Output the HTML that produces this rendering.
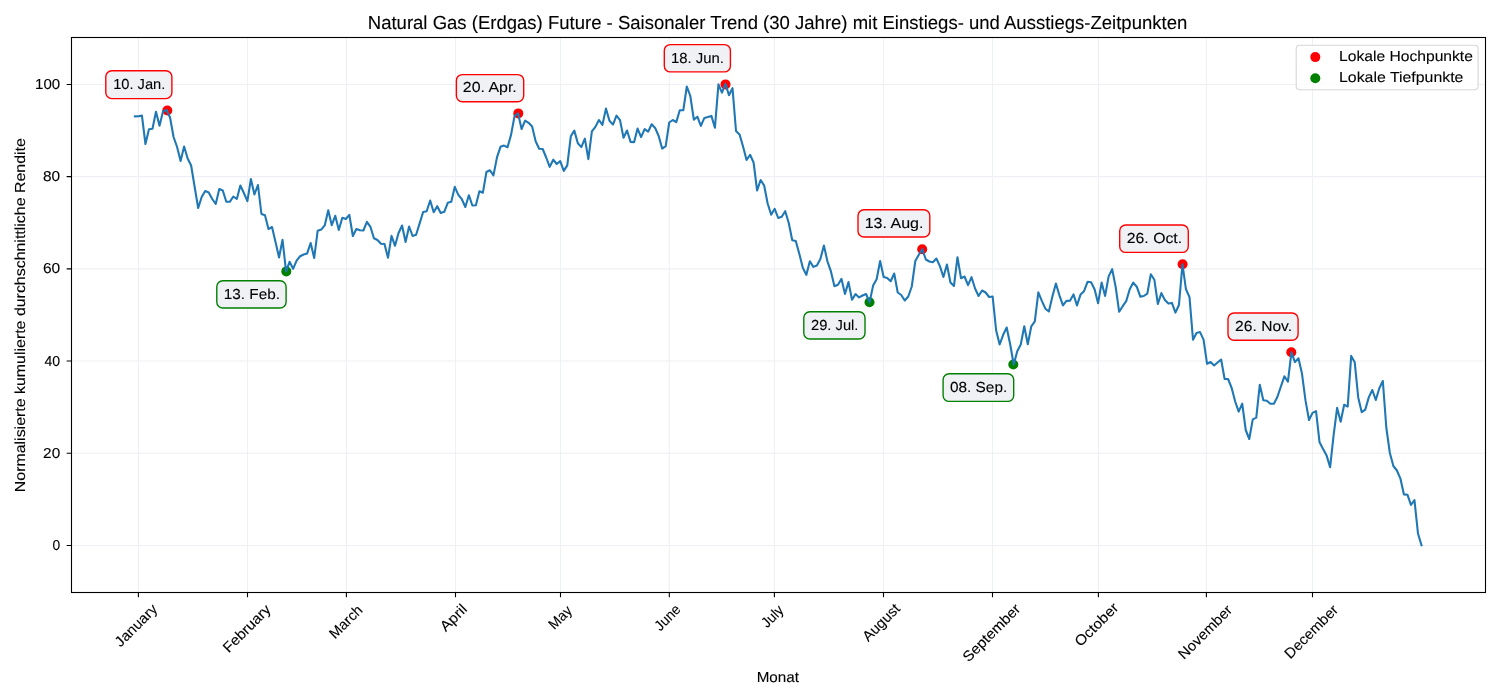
<!DOCTYPE html><html><head><meta charset="utf-8"><style>html,body{margin:0;padding:0;background:#fff;width:1500px;height:700px;overflow:hidden;position:relative}svg text{text-rendering:geometricPrecision}</style></head><body><svg width="1500" height="700" viewBox="0 0 1500 700" style="position:absolute;left:0;top:0;will-change:transform">
<rect x="0" y="0" width="1500" height="700" fill="#ffffff"/>
<path d="M138.40 37.5V592.5 M247.50 37.5V592.5 M346.40 37.5V592.5 M455.50 37.5V592.5 M560.50 37.5V592.5 M669.30 37.5V592.5 M774.40 37.5V592.5 M883.50 37.5V592.5 M992.50 37.5V592.5 M1098.40 37.5V592.5 M1206.40 37.5V592.5 M1312.50 37.5V592.5 M71.5 545.43H1485.5 M71.5 453.23H1485.5 M71.5 361.03H1485.5 M71.5 268.83H1485.5 M71.5 176.63H1485.5 M71.5 84.43H1485.5" stroke="#eff0f5" stroke-width="1.1" fill="none"/>
<circle cx="167.30" cy="110.50" r="5" fill="#ff0000"/>
<circle cx="518.30" cy="113.40" r="5" fill="#ff0000"/>
<circle cx="725.50" cy="84.40" r="5" fill="#ff0000"/>
<circle cx="922.20" cy="249.20" r="5" fill="#ff0000"/>
<circle cx="1182.60" cy="264.30" r="5" fill="#ff0000"/>
<circle cx="1291.30" cy="352.30" r="5" fill="#ff0000"/>
<circle cx="286.30" cy="271.40" r="5" fill="#008000"/>
<circle cx="869.50" cy="302.30" r="5" fill="#008000"/>
<circle cx="1013.30" cy="364.50" r="5" fill="#008000"/>
<path d="M134.90 116.40 L138.42 116.20 L141.93 115.60 L145.45 144.00 L148.96 129.20 L152.48 128.80 L155.99 111.80 L159.51 125.80 L163.02 111.50 L166.54 110.00 L170.05 117.50 L173.57 137.00 L177.08 147.00 L180.60 161.00 L184.11 146.50 L187.63 158.50 L191.14 165.50 L194.66 187.00 L198.18 208.00 L201.69 197.00 L205.21 191.00 L208.72 192.50 L212.24 199.00 L215.75 204.00 L219.27 189.00 L222.78 190.50 L226.30 201.80 L229.81 201.80 L233.33 196.50 L236.84 199.00 L240.36 185.50 L243.87 193.00 L247.39 201.20 L250.90 179.00 L254.42 194.50 L257.94 185.00 L261.45 214.00 L264.97 215.20 L268.48 229.10 L272.00 227.00 L275.51 242.00 L279.03 257.50 L282.54 239.80 L286.06 271.40 L289.57 261.80 L293.09 268.80 L296.60 260.70 L300.12 256.20 L303.63 254.50 L307.15 253.40 L310.66 243.00 L314.18 258.00 L317.70 230.70 L321.21 229.60 L324.73 225.40 L328.24 210.30 L331.76 225.20 L335.27 215.80 L338.79 230.00 L342.30 217.80 L345.82 219.00 L349.33 214.80 L352.85 236.00 L356.36 229.00 L359.88 230.20 L363.39 230.50 L366.91 221.80 L370.43 226.80 L373.94 238.20 L377.46 240.00 L380.97 243.70 L384.49 244.00 L388.00 257.80 L391.52 235.80 L395.03 245.80 L398.55 233.00 L402.06 225.50 L405.58 242.00 L409.09 226.50 L412.61 236.00 L416.12 234.80 L419.64 223.40 L423.15 212.00 L426.67 211.20 L430.19 200.50 L433.70 212.20 L437.22 206.20 L440.73 213.00 L444.25 211.80 L447.76 202.80 L451.28 201.80 L454.79 186.80 L458.31 194.80 L461.82 199.20 L465.34 207.00 L468.85 195.20 L472.37 205.50 L475.88 205.20 L479.40 191.20 L482.91 192.70 L486.43 172.00 L489.95 170.30 L493.46 175.40 L496.98 157.40 L500.49 146.80 L504.01 145.60 L507.52 147.20 L511.04 134.90 L514.55 116.00 L518.07 113.40 L521.58 129.10 L525.10 120.70 L528.61 122.80 L532.13 126.40 L535.64 141.20 L539.16 148.70 L542.67 149.00 L546.19 157.50 L549.71 166.90 L553.22 159.70 L556.74 164.00 L560.25 161.10 L563.77 170.90 L567.28 165.40 L570.80 136.30 L574.31 130.60 L577.83 143.20 L581.34 147.10 L584.86 138.60 L588.37 159.20 L591.89 131.40 L595.40 126.90 L598.92 120.00 L602.43 124.90 L605.95 108.60 L609.47 120.80 L612.98 124.60 L616.50 115.60 L620.01 120.10 L623.53 137.70 L627.04 130.50 L630.56 141.90 L634.07 142.30 L637.59 128.60 L641.10 137.10 L644.62 129.10 L648.13 131.70 L651.65 124.30 L655.16 128.00 L658.68 136.00 L662.19 148.60 L665.71 146.10 L669.23 122.50 L672.74 120.00 L676.26 122.10 L679.77 110.30 L683.29 110.30 L686.80 86.50 L690.32 96.00 L693.83 119.60 L697.35 116.70 L700.86 125.90 L704.38 117.90 L707.89 117.10 L711.41 115.90 L714.92 127.80 L718.44 84.40 L721.96 92.70 L725.47 83.90 L728.99 95.30 L732.50 88.10 L736.02 131.00 L739.53 134.40 L743.05 146.50 L746.56 160.00 L750.08 154.80 L753.59 162.50 L757.11 190.50 L760.62 180.00 L764.14 185.50 L767.65 203.50 L771.17 214.80 L774.68 208.80 L778.20 218.00 L781.72 216.80 L785.23 211.20 L788.75 223.00 L792.26 240.20 L795.78 241.00 L799.29 253.80 L802.81 267.70 L806.32 274.90 L809.84 261.30 L813.35 266.90 L816.87 265.50 L820.38 259.10 L823.90 245.50 L827.41 261.30 L830.93 271.40 L834.44 286.20 L837.96 284.80 L841.48 278.90 L844.99 293.90 L848.51 282.10 L852.02 299.80 L855.54 294.10 L859.05 297.40 L862.57 295.50 L866.08 294.00 L869.60 302.30 L873.11 285.60 L876.63 279.20 L880.14 261.00 L883.66 277.00 L887.17 278.00 L890.69 281.20 L894.20 273.50 L897.72 292.50 L901.24 295.00 L904.75 300.50 L908.27 296.50 L911.78 286.50 L915.30 261.00 L918.81 254.80 L922.33 249.20 L925.84 259.50 L929.36 261.50 L932.87 262.20 L936.39 258.50 L939.90 266.10 L943.42 277.00 L946.93 264.50 L950.45 282.50 L953.96 286.00 L957.48 257.20 L961.00 278.20 L964.51 276.50 L968.03 285.20 L971.54 277.20 L975.06 288.50 L978.57 296.00 L982.09 290.50 L985.60 292.50 L989.12 297.00 L992.63 296.50 L996.15 330.50 L999.66 344.50 L1003.18 334.80 L1006.69 327.50 L1010.21 344.50 L1013.72 364.50 L1017.24 351.20 L1020.76 344.50 L1024.27 326.30 L1027.79 344.20 L1031.30 326.30 L1034.82 321.40 L1038.33 292.30 L1041.85 300.80 L1045.36 308.70 L1048.88 311.50 L1052.39 296.50 L1055.91 283.60 L1059.42 295.30 L1062.94 305.40 L1066.45 300.90 L1069.97 300.70 L1073.49 294.40 L1077.00 305.40 L1080.52 294.60 L1084.03 291.20 L1087.55 281.80 L1091.06 282.30 L1094.58 289.30 L1098.09 303.20 L1101.61 282.60 L1105.12 295.90 L1108.64 276.40 L1112.15 269.10 L1115.67 287.00 L1119.18 311.80 L1122.70 306.20 L1126.21 301.10 L1129.73 289.30 L1133.25 282.60 L1136.76 286.70 L1140.28 296.60 L1143.79 296.00 L1147.31 293.60 L1150.82 274.30 L1154.34 279.70 L1157.85 304.00 L1161.37 293.10 L1164.88 300.00 L1168.40 303.60 L1171.91 302.90 L1175.43 312.60 L1178.94 305.00 L1182.46 264.30 L1185.97 289.30 L1189.49 297.10 L1193.01 339.70 L1196.52 332.90 L1200.04 332.10 L1203.55 339.60 L1207.07 363.80 L1210.58 362.00 L1214.10 365.50 L1217.61 362.50 L1221.13 359.50 L1224.64 379.00 L1228.16 379.10 L1231.67 388.00 L1235.19 401.50 L1238.70 411.70 L1242.22 403.70 L1245.73 430.00 L1249.25 439.00 L1252.77 419.40 L1256.28 417.60 L1259.80 384.70 L1263.31 400.30 L1266.83 400.70 L1270.34 403.70 L1273.86 403.70 L1277.37 397.00 L1280.89 386.50 L1284.40 376.30 L1287.92 381.70 L1291.43 352.30 L1294.95 362.10 L1298.46 358.30 L1301.98 373.60 L1305.49 400.40 L1309.01 420.00 L1312.53 412.90 L1316.04 411.10 L1319.56 442.30 L1323.07 448.90 L1326.59 455.40 L1330.10 467.30 L1333.62 435.20 L1337.13 407.90 L1340.65 421.80 L1344.16 404.80 L1347.68 406.60 L1351.19 355.90 L1354.71 362.20 L1358.22 397.40 L1361.74 412.20 L1365.26 409.60 L1368.77 397.40 L1372.29 390.00 L1375.80 400.00 L1379.32 388.20 L1382.83 381.00 L1386.35 428.00 L1389.86 453.00 L1393.38 466.00 L1396.89 470.50 L1400.41 478.60 L1403.92 494.40 L1407.44 494.70 L1410.95 505.00 L1414.47 500.20 L1417.98 533.50 L1421.50 545.30" stroke="#1f77b4" stroke-width="2.08" fill="none" stroke-linejoin="round" stroke-linecap="square"/>
<rect x="71.5" y="37.5" width="1414.0" height="555.0" fill="none" stroke="#000" stroke-width="1.1"/>
<path d="M138.40 592.5v4.86 M247.50 592.5v4.86 M346.40 592.5v4.86 M455.50 592.5v4.86 M560.50 592.5v4.86 M669.30 592.5v4.86 M774.40 592.5v4.86 M883.50 592.5v4.86 M992.50 592.5v4.86 M1098.40 592.5v4.86 M1206.40 592.5v4.86 M1312.50 592.5v4.86 M71.5 545.43h-4.86 M71.5 453.23h-4.86 M71.5 361.03h-4.86 M71.5 268.83h-4.86 M71.5 176.63h-4.86 M71.5 84.43h-4.86" stroke="#000" stroke-width="1.1" fill="none"/>
<g font-family="Liberation Sans, sans-serif" fill="#000" stroke="#000" stroke-width="0.1">
<text x="52.46" y="549.83" font-size="14.39" textLength="7.68" lengthAdjust="spacingAndGlyphs">0</text>
<text x="43.13" y="457.63" font-size="14.39" textLength="17.07" lengthAdjust="spacingAndGlyphs">20</text>
<text x="44.48" y="366.03" font-size="14.39" textLength="15.67" lengthAdjust="spacingAndGlyphs">40</text>
<text x="42.91" y="273.23" font-size="14.39" textLength="17.30" lengthAdjust="spacingAndGlyphs">60</text>
<text x="43.03" y="181.03" font-size="14.39" textLength="17.17" lengthAdjust="spacingAndGlyphs">80</text>
<text x="35.05" y="88.83" font-size="14.39" textLength="25.14" lengthAdjust="spacingAndGlyphs">100</text>
<text x="367.78" y="28.90" font-size="18.90" textLength="819.52" lengthAdjust="spacingAndGlyphs">Natural Gas (Erdgas) Future - Saisonaler Trend (30 Jahre) mit Einstiegs- und Ausstiegs-Zeitpunkten</text>
<text x="756.65" y="681.90" font-size="14.54" textLength="42.36" lengthAdjust="spacingAndGlyphs">Monat</text>
<g transform="translate(25 490.9) rotate(-90)"><text x="-1.31" y="0.00" font-size="14.54" textLength="354.01" lengthAdjust="spacingAndGlyphs">Normalisierte kumulierte durchschnittliche Rendite</text></g>
<g transform="translate(120.75 647.48) rotate(-45)"><text x="-0.23" y="0.00" font-size="14.54" textLength="53.23" lengthAdjust="spacingAndGlyphs">January</text></g>
<g transform="translate(229.53 652.52) rotate(-45)"><text x="-1.25" y="0.00" font-size="14.54" textLength="60.80" lengthAdjust="spacingAndGlyphs">February</text></g>
<g transform="translate(335.80 638.71) rotate(-45)"><text x="-1.19" y="0.00" font-size="14.54" textLength="40.43" lengthAdjust="spacingAndGlyphs">March</text></g>
<g transform="translate(445.85 632.28) rotate(-45)"><text x="-0.03" y="0.00" font-size="14.54" textLength="31.42" lengthAdjust="spacingAndGlyphs">April</text></g>
<g transform="translate(555.05 629.48) rotate(-45)"><text x="-1.15" y="0.00" font-size="14.54" textLength="26.42" lengthAdjust="spacingAndGlyphs">May</text></g>
<g transform="translate(660.42 631.55) rotate(-45)"><text x="-0.22" y="0.00" font-size="14.54" textLength="30.13" lengthAdjust="spacingAndGlyphs">June</text></g>
<g transform="translate(767.26 628.46) rotate(-45)"><text x="-0.22" y="0.00" font-size="14.54" textLength="24.61" lengthAdjust="spacingAndGlyphs">July</text></g>
<g transform="translate(868.25 642.27) rotate(-45)"><text x="-0.03" y="0.00" font-size="14.54" textLength="46.30" lengthAdjust="spacingAndGlyphs">August</text></g>
<g transform="translate(969.10 662.18) rotate(-45)"><text x="-0.69" y="0.00" font-size="14.54" textLength="74.69" lengthAdjust="spacingAndGlyphs">September</text></g>
<g transform="translate(1081.13 646.85) rotate(-45)"><text x="-0.73" y="0.00" font-size="14.54" textLength="54.75" lengthAdjust="spacingAndGlyphs">October</text></g>
<g transform="translate(1184.94 659.21) rotate(-45)"><text x="-1.23" y="0.00" font-size="14.54" textLength="69.34" lengthAdjust="spacingAndGlyphs">November</text></g>
<g transform="translate(1291.12 658.66) rotate(-45)"><text x="-1.23" y="0.00" font-size="14.54" textLength="69.11" lengthAdjust="spacingAndGlyphs">December</text></g>
</g>
<rect x="1296.2" y="45.2" width="181.9" height="44.6" rx="3.5" ry="3.5" fill="#ffffff" fill-opacity="0.8" stroke="#d6d6d6" stroke-width="1.1"/>
<circle cx="1315.3" cy="57.1" r="5" fill="#ff0000"/>
<circle cx="1315.3" cy="78.3" r="5" fill="#008000"/>
<g font-family="Liberation Sans, sans-serif" fill="#000" stroke="#000" stroke-width="0.1">
<text x="1339.02" y="61.00" font-size="14.54" textLength="133.88" lengthAdjust="spacingAndGlyphs">Lokale Hochpunkte</text>
<text x="1339.01" y="82.00" font-size="14.54" textLength="124.39" lengthAdjust="spacingAndGlyphs">Lokale Tiefpunkte</text>
</g>
<g font-family="Liberation Sans, sans-serif" fill="#000" stroke="#000" stroke-width="0.1">
<rect x="105.79" y="70.69" width="66.11" height="27.91" rx="6" ry="6" fill="#eff1f5" stroke="#ff0000" stroke-width="1.39"/>
<text x="113.18" y="88.90" font-size="14.54" textLength="52.15" lengthAdjust="spacingAndGlyphs">10. Jan.</text>
<rect x="216.79" y="280.69" width="69.31" height="27.31" rx="6" ry="6" fill="#eff1f5" stroke="#008000" stroke-width="1.39"/>
<text x="223.83" y="298.90" font-size="14.54" textLength="56.16" lengthAdjust="spacingAndGlyphs">13. Feb.</text>
<rect x="456.39" y="74.59" width="67.31" height="27.21" rx="6" ry="6" fill="#eff1f5" stroke="#ff0000" stroke-width="1.39"/>
<text x="462.82" y="92.00" font-size="14.54" textLength="53.98" lengthAdjust="spacingAndGlyphs">20. Apr.</text>
<rect x="664.30" y="44.59" width="66.11" height="27.31" rx="6" ry="6" fill="#eff1f5" stroke="#ff0000" stroke-width="1.39"/>
<text x="670.97" y="62.90" font-size="14.54" textLength="52.89" lengthAdjust="spacingAndGlyphs">18. Jun.</text>
<rect x="803.80" y="311.69" width="61.21" height="27.31" rx="6" ry="6" fill="#eff1f5" stroke="#008000" stroke-width="1.39"/>
<text x="810.96" y="329.80" font-size="14.54" textLength="47.49" lengthAdjust="spacingAndGlyphs">29. Jul.</text>
<rect x="858.00" y="209.69" width="71.81" height="27.31" rx="6" ry="6" fill="#eff1f5" stroke="#ff0000" stroke-width="1.39"/>
<text x="864.70" y="228.10" font-size="14.54" textLength="58.74" lengthAdjust="spacingAndGlyphs">13. Aug.</text>
<rect x="943.10" y="373.69" width="70.61" height="27.71" rx="6" ry="6" fill="#eff1f5" stroke="#008000" stroke-width="1.39"/>
<text x="950.00" y="391.80" font-size="14.54" textLength="57.20" lengthAdjust="spacingAndGlyphs">08. Sep.</text>
<rect x="1119.69" y="225.00" width="68.61" height="27.41" rx="6" ry="6" fill="#eff1f5" stroke="#ff0000" stroke-width="1.39"/>
<text x="1126.81" y="242.80" font-size="14.54" textLength="55.34" lengthAdjust="spacingAndGlyphs">26. Oct.</text>
<rect x="1227.99" y="313.00" width="70.11" height="27.31" rx="6" ry="6" fill="#eff1f5" stroke="#ff0000" stroke-width="1.39"/>
<text x="1235.13" y="330.70" font-size="14.54" textLength="56.97" lengthAdjust="spacingAndGlyphs">26. Nov.</text>
</g>
</svg></body></html>
